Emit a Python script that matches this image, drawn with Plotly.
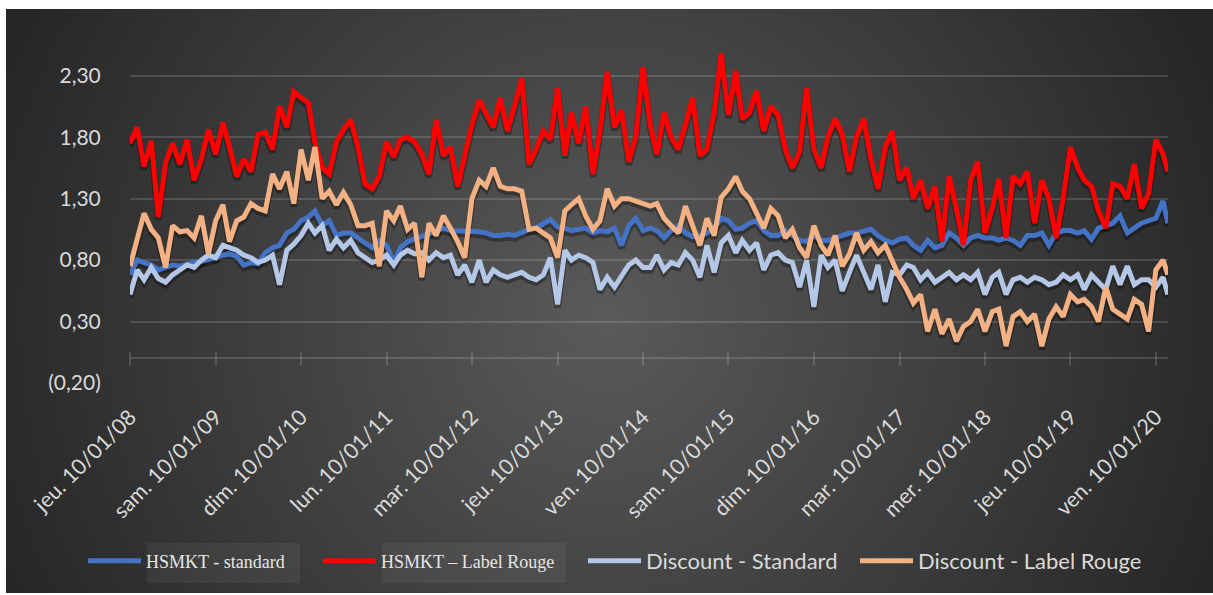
import base64
import pandas as pd
import plotly.graph_objects as go

# ---------------- data (monthly samples) ----------------
dates = pd.date_range("2008-01-10", periods=146, freq=pd.DateOffset(months=1)).strftime("%Y-%m-%d").tolist() + ["2020-03-01"]

hsmkt_standard = [
    0.68, 0.80, 0.78, 0.76, 0.72, 0.74, 0.76, 0.75, 0.77, 0.78, 0.79, 0.80, 0.82, 0.84, 0.85, 0.83, 0.76, 0.78, 0.77, 0.86, 0.90, 0.92, 1.02, 1.05, 1.12,
    1.15, 1.20, 1.08, 1.12, 1.00, 1.02, 1.02, 0.98, 0.94, 0.90, 0.96, 0.92, 0.78, 0.90, 0.95, 0.97, 1.00, 1.02, 1.03, 1.06, 1.04, 1.04, 1.04, 1.04,
    1.03, 1.02, 1.00, 1.00, 1.01, 1.00, 1.03, 1.05, 1.06, 1.10, 1.13, 1.07, 1.06, 1.04, 1.05, 1.06, 1.02, 1.04, 1.03, 1.06, 0.92, 1.08, 1.14, 1.04,
    1.06, 1.04, 0.98, 1.04, 1.08, 1.02, 0.99, 1.00, 1.02, 1.06, 1.14, 1.12, 1.05, 1.06, 1.10, 1.12, 1.04, 1.00, 1.00, 1.04, 1.00, 0.96, 0.95, 1.00,
    0.96, 0.96, 0.98, 1.00, 1.02, 1.02, 1.04, 1.05, 1.00, 0.96, 0.94, 0.97, 0.98, 0.92, 0.88, 0.96, 0.90, 0.92, 1.02, 0.98, 0.92, 0.98, 1.00, 0.98,
    0.98, 0.96, 0.98, 0.96, 0.92, 1.00, 1.00, 1.02, 0.92, 1.02, 1.04, 1.04, 1.02, 1.04, 0.97, 1.06, 1.08, 1.10, 1.16, 1.02, 1.06, 1.10, 1.12, 1.14, 1.28, 1.10,
]
hsmkt_label_rouge = [
    1.75, 1.88, 1.56, 1.77, 1.15, 1.59, 1.75, 1.58, 1.78, 1.45, 1.62, 1.86, 1.66, 1.92, 1.72, 1.48, 1.62, 1.52, 1.82, 1.84, 1.70, 2.05, 1.88, 2.17, 2.12,
    2.08, 1.76, 1.55, 1.50, 1.76, 1.86, 1.94, 1.72, 1.42, 1.38, 1.48, 1.76, 1.64, 1.78, 1.80, 1.76, 1.66, 1.50, 1.94, 1.65, 1.72, 1.40, 1.65, 1.90,
    2.10, 2.00, 1.88, 2.12, 1.85, 2.05, 2.28, 1.58, 1.70, 1.85, 1.78, 2.20, 1.65, 2.00, 1.75, 2.05, 1.50, 1.85, 2.33, 1.88, 2.02, 1.60, 1.80, 2.37,
    1.90, 1.66, 2.00, 1.80, 1.70, 1.90, 2.12, 1.65, 1.70, 2.00, 2.48, 1.98, 2.34, 1.95, 2.00, 2.18, 1.85, 2.05, 1.98, 1.70, 1.55, 1.68, 2.20, 1.70,
    1.55, 1.80, 1.95, 1.82, 1.52, 1.80, 1.95, 1.62, 1.38, 1.72, 1.85, 1.45, 1.55, 1.30, 1.45, 1.22, 1.40, 0.95, 1.48, 1.22, 0.92, 1.45, 1.60, 1.02,
    1.22, 1.46, 0.98, 1.48, 1.42, 1.52, 1.10, 1.45, 1.30, 0.98, 1.30, 1.72, 1.55, 1.45, 1.40, 1.20, 1.06, 1.42, 1.40, 1.30, 1.58, 1.22, 1.34, 1.78, 1.66, 1.52,
]
discount_standard = [
    0.52, 0.72, 0.64, 0.74, 0.65, 0.62, 0.68, 0.72, 0.76, 0.74, 0.80, 0.84, 0.82, 0.92, 0.90, 0.88, 0.84, 0.82, 0.78, 0.80, 0.84, 0.60, 0.88, 0.93, 1.00,
    1.10, 1.02, 1.08, 0.88, 0.97, 0.90, 0.96, 0.86, 0.82, 0.78, 0.80, 0.84, 0.76, 0.84, 0.88, 0.85, 0.86, 0.80, 0.86, 0.82, 0.84, 0.68, 0.76, 0.62,
    0.80, 0.62, 0.72, 0.68, 0.66, 0.68, 0.70, 0.66, 0.64, 0.68, 0.82, 0.44, 0.88, 0.80, 0.84, 0.82, 0.78, 0.56, 0.66, 0.58, 0.66, 0.76, 0.80, 0.74,
    0.74, 0.84, 0.72, 0.78, 0.76, 0.86, 0.80, 0.66, 0.92, 0.70, 0.94, 1.00, 0.86, 0.96, 0.88, 0.94, 0.72, 0.84, 0.86, 0.80, 0.78, 0.58, 0.80, 0.42,
    0.84, 0.74, 0.80, 0.55, 0.70, 0.84, 0.70, 0.56, 0.76, 0.46, 0.70, 0.68, 0.76, 0.74, 0.64, 0.70, 0.62, 0.66, 0.70, 0.64, 0.68, 0.64, 0.70, 0.52,
    0.66, 0.70, 0.52, 0.64, 0.66, 0.62, 0.66, 0.64, 0.60, 0.62, 0.68, 0.64, 0.68, 0.56, 0.68, 0.62, 0.56, 0.75, 0.60, 0.75, 0.60, 0.64, 0.64, 0.58, 0.66, 0.52,
]
discount_label_rouge = [
    0.75, 0.96, 1.18, 1.05, 0.98, 0.74, 1.08, 1.03, 1.04, 0.98, 1.16, 0.85, 1.12, 1.25, 0.95, 1.12, 1.15, 1.26, 1.22, 1.20, 1.50, 1.38, 1.52, 1.26, 1.70,
    1.45, 1.72, 1.30, 1.36, 1.25, 1.35, 1.25, 1.08, 1.08, 1.10, 0.75, 1.20, 1.12, 1.24, 1.05, 1.10, 0.66, 1.10, 1.00, 1.16, 1.06, 0.95, 0.82, 1.30,
    1.45, 1.40, 1.55, 1.40, 1.38, 1.38, 1.36, 1.05, 1.06, 1.02, 0.98, 0.82, 1.20, 1.25, 1.30, 1.16, 1.05, 1.12, 1.38, 1.24, 1.30, 1.30, 1.28, 1.26,
    1.24, 1.26, 1.14, 1.08, 1.02, 1.24, 1.08, 0.92, 1.14, 1.00, 1.31, 1.38, 1.48, 1.36, 1.30, 1.18, 1.06, 1.22, 1.16, 0.98, 1.05, 0.90, 0.82, 1.08,
    0.92, 0.84, 1.00, 0.75, 0.85, 1.02, 0.88, 0.95, 0.86, 0.92, 0.80, 0.66, 0.56, 0.45, 0.52, 0.22, 0.40, 0.20, 0.32, 0.14, 0.26, 0.30, 0.40, 0.22,
    0.38, 0.40, 0.10, 0.34, 0.38, 0.30, 0.36, 0.10, 0.32, 0.42, 0.34, 0.52, 0.46, 0.48, 0.42, 0.30, 0.58, 0.40, 0.36, 0.32, 0.48, 0.44, 0.22, 0.72, 0.80, 0.68,
]

series_names = ["HSMKT - standard", "HSMKT \u2013 Label Rouge", "Discount - Standard", "Discount - Label Rouge"]
series_values = [hsmkt_standard, hsmkt_label_rouge, discount_standard, discount_label_rouge]
series_colors = ["#4472C4", "#FF0000", "#B4C7E7", "#F4B183"]

tick_dates = ["2008-01-10", "2009-01-10", "2010-01-10", "2011-01-10", "2012-01-10", "2013-01-10", "2014-01-10",
              "2015-01-10", "2016-01-10", "2017-01-10", "2018-01-10", "2019-01-10", "2020-01-10"]
tick_labels = ["jeu. 10/01/08", "sam. 10/01/09", "dim. 10/01/10", "lun. 10/01/11", "mar. 10/01/12", "jeu. 10/01/13",
               "ven. 10/01/14", "sam. 10/01/15", "dim. 10/01/16", "mar. 10/01/17", "mer. 10/01/18", "jeu. 10/01/19",
               "ven. 10/01/20"]
y_tick_vals = [-0.2, 0.3, 0.8, 1.3, 1.8, 2.3]
y_tick_text = ["(0,20)", "0,30", "0,80", "1,30", "1,80", "2,30"]

# ---------------- layout geometry ----------------
W, H = 1213, 595
L, R, T, B = 130, 45, 45, 212
PW, PH = W - L - R, H - T - B
Y_RANGE = [-0.2, 2.55]
X_RANGE = ["2008-01-10", "2020-03-02"]
SHADOW_SHIFT = 3 * (Y_RANGE[1] - Y_RANGE[0]) / PH


def px_x(p):
    return (p - L) / PW


def px_y(p):
    return (H - B - p) / PH


fig = go.Figure()

# invisible carriers so the base axes (grid, labels, tick marks) get drawn
fig.add_trace(go.Scatter(x=dates, y=hsmkt_standard, mode="lines", xaxis="x", yaxis="y", opacity=0,
                         line=dict(width=0), hoverinfo="skip", showlegend=False))
fig.add_trace(go.Scatter(x=dates, y=hsmkt_standard, mode="lines", xaxis="x2", yaxis="y", opacity=0,
                         line=dict(width=0), hoverinfo="skip", showlegend=False))

# shadows (drawn on a slightly shifted overlay axis)
for vals in series_values:
    fig.add_trace(go.Scatter(x=dates, y=vals, mode="lines", xaxis="x", yaxis="y2",
                             line=dict(color="rgba(0,0,0,0.32)", width=6.5), hoverinfo="skip", showlegend=False))

legend_ids = ["legend", "legend2", "legend3", "legend4"]
for name, vals, col, lg in zip(series_names, series_values, series_colors, legend_ids):
    fig.add_trace(go.Scatter(x=dates, y=vals, mode="lines", name=name, xaxis="x", yaxis="y3",
                             line=dict(color=col, width=5), legend=lg))

# background radial gradient
svg = (
    "<svg xmlns='http://www.w3.org/2000/svg' width='1207' height='584'>"
    "<defs><radialGradient id='g' gradientUnits='userSpaceOnUse' cx='600' cy='310' r='660'>"
    "<stop offset='0' stop-color='#5a5a5a'/><stop offset='1' stop-color='#262626'/>"
    "</radialGradient></defs><rect width='1207' height='584' fill='url(#g)'/></svg>"
)
src = "data:image/svg+xml;base64," + base64.b64encode(svg.encode()).decode()

grid_col = "rgba(255,255,255,0.14)"
tick_font = dict(family="Lato", size=21.5, color="#d9d9d9")

fig.update_layout(
    width=W, height=H,
    margin=dict(l=L, r=R, t=T, b=B),
    paper_bgcolor="white",
    plot_bgcolor="rgba(0,0,0,0)",
    images=[dict(source=src, xref="paper", yref="paper", x=px_x(6), y=px_y(9),
                 sizex=1207 / PW, sizey=584 / PH, xanchor="left", yanchor="top",
                 sizing="stretch", layer="below")],
    xaxis=dict(type="date", range=X_RANGE, tickmode="array", tickvals=tick_dates, ticktext=tick_labels,
               tickangle=-45, tickfont=tick_font, showgrid=False, zeroline=False, showline=False,
               ticks="outside", ticklen=12, tickcolor="rgba(0,0,0,0)"),
    xaxis2=dict(type="date", range=X_RANGE, overlaying="x", anchor="free", position=px_y(351),
                tickmode="array", tickvals=tick_dates, showticklabels=False, ticks="outside",
                ticklen=14, tickwidth=1.5, tickcolor=grid_col, showgrid=False, zeroline=False, showline=False),
    yaxis=dict(range=Y_RANGE, tickmode="array", tickvals=y_tick_vals, ticktext=y_tick_text,
               tickfont=dict(family="Lato", size=21, color="#d9d9d9"), showgrid=True, gridcolor=grid_col,
               gridwidth=1.5, zeroline=True, zerolinecolor=grid_col, zerolinewidth=1.5, showline=False,
               ticks="outside", ticklen=24, tickcolor="rgba(0,0,0,0)"),
    yaxis2=dict(range=[Y_RANGE[0] + SHADOW_SHIFT, Y_RANGE[1] + SHADOW_SHIFT], overlaying="y", visible=False),
    yaxis3=dict(range=Y_RANGE, overlaying="y", visible=False),
    hovermode=False,
)

serif_font = dict(family="Liberation Serif", size=18, color="#e6e6e6")
sans_font = dict(family="Lato", size=22, color="#d9d9d9")
legend_x_px = [83, 318, 583, 855]
legend_fonts = [serif_font, serif_font, sans_font, sans_font]
for lg, xp, fnt in zip(legend_ids, legend_x_px, legend_fonts):
    fig.update_layout({lg: dict(x=px_x(xp), y=px_y(561), xanchor="left", yanchor="middle",
                                orientation="h", bgcolor="rgba(0,0,0,0)", font=fnt, itemwidth=53,
                                borderwidth=0)})

# subtle boxes behind the two serif legend labels
for x0, x1 in [(147, 300), (382, 566)]:
    fig.add_shape(type="rect", xref="paper", yref="paper", x0=px_x(x0), x1=px_x(x1),
                  y0=px_y(583), y1=px_y(543), line=dict(width=0), fillcolor="rgba(255,255,255,0.05)",
                  layer="below")

fig.write_html("out.html", config={"displayModeBar": False},
               post_script="document.body.style.margin='0';document.body.style.overflow='hidden';")
